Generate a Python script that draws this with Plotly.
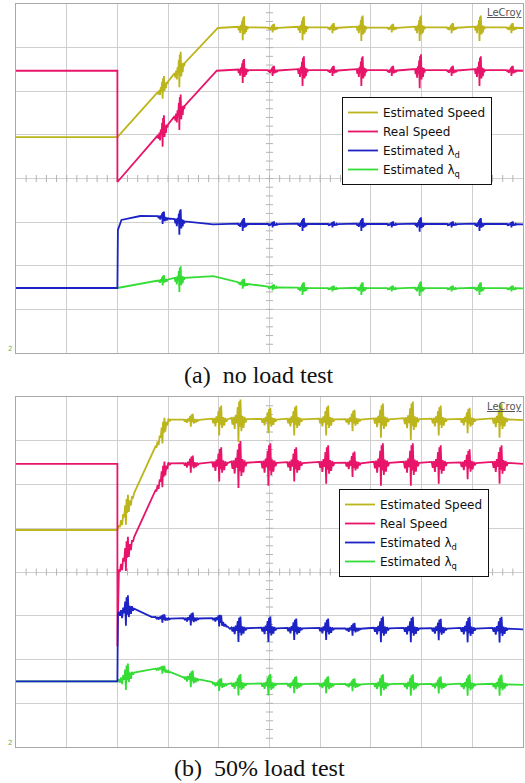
import numpy as np
import plotly.graph_objects as go

# ---------------- data (time in divisions 0..10, level in divisions 0..8) -------------
SERIES_NAMES = ["Estimated Speed", "Real Speed", "Estimated λ<sub>d</sub>", "Estimated λ<sub>q</sub>"]

# Panel (a): no load test
a_est_t = [0, 2.0, 3.98, 10]
a_est_v = [4.95, 4.95, 7.45, 7.45]
a_real_t = [0, 2.0, 2.0, 3.96, 10]
a_real_v = [6.47, 6.47, 3.92, 6.47, 6.47]
a_ld_t = [0, 2.0, 2.01, 2.08, 2.45, 2.84, 3.23, 3.89, 10]
a_ld_v = [1.49, 1.49, 2.82, 3.05, 3.14, 3.12, 3.01, 2.95, 2.95]
a_lq_t = [0, 2.0, 2.9, 3.89, 4.42, 5.0, 5.6, 10]
a_lq_v = [1.49, 1.49, 1.67, 1.76, 1.6, 1.51, 1.48, 1.48]
a_burst_t = [2.9, 3.23, 4.48, 5.07, 5.66, 6.25, 6.82, 7.42, 7.97, 8.6, 9.15, 9.78]
a_burst_est = [0.25, 0.4, 0.28, 0.1, 0.28, 0.12, 0.3, 0.1, 0.3, 0.12, 0.3, 0.12]
a_burst_real = [0.35, 0.4, 0.28, 0.12, 0.35, 0.12, 0.35, 0.12, 0.4, 0.12, 0.35, 0.12]
a_burst_ld = [0.15, 0.3, 0.15, 0.07, 0.15, 0.07, 0.15, 0.07, 0.17, 0.07, 0.15, 0.07]
a_burst_lq = [0.12, 0.3, 0.12, 0.07, 0.15, 0.07, 0.15, 0.07, 0.17, 0.07, 0.15, 0.07]

# Panel (b): 50% load test
b_est_t = [0, 2.0, 3.0, 10]
b_est_v = [4.96, 4.96, 7.47, 7.47]
b_real_t = [0, 2.0, 2.0, 2.02, 3.0, 10]
b_real_v = [6.47, 6.47, 2.3, 4.0, 6.47, 6.47]
b_ld_t = [0, 2.0, 2.01, 2.28, 2.68, 3.0, 3.98, 4.22, 10]
b_ld_v = [1.5, 1.5, 3.05, 3.17, 2.97, 2.93, 2.93, 2.70, 2.69]
b_lq_t = [0, 2.0, 2.3, 2.84, 3.3, 3.76, 3.98, 10]
b_lq_v = [1.5, 1.5, 1.68, 1.8, 1.59, 1.51, 1.43, 1.42]
b_burst_t = [2.18, 2.9, 3.46, 4.02, 4.4, 4.99, 5.5, 6.13, 6.65, 7.21, 7.8, 8.35, 8.92, 9.55]
b_burst_est = [0.3, 0.25, 0.15, 0.35, 0.5, 0.3, 0.35, 0.35, 0.25, 0.4, 0.45, 0.35, 0.3, 0.4]
b_burst_real = [0.35, 0.25, 0.2, 0.4, 0.55, 0.5, 0.4, 0.45, 0.3, 0.5, 0.5, 0.45, 0.35, 0.45]
b_burst_ld = [0.35, 0.1, 0.15, 0.15, 0.3, 0.3, 0.25, 0.25, 0.15, 0.3, 0.3, 0.25, 0.3, 0.3]
b_burst_lq = [0.3, 0.1, 0.2, 0.15, 0.25, 0.25, 0.2, 0.2, 0.15, 0.25, 0.25, 0.2, 0.25, 0.25]

CAPTIONS = ["(a)&nbsp; no load test", "(b)&nbsp; 50% load test"]

# ---------------- styling -------------
COLORS = ["#bdb51c", "#e8146a", "#1c22c4", "#35dc35"]
# burst template (relative time offset, relative amplitude)
BURST_OFF = [-0.5, -0.43, -0.36, -0.29, -0.22, -0.15, -0.09, -0.04, 0.0, 0.04, 0.09,
             0.15, 0.22, 0.29, 0.36, 0.43, 0.5]
BURST_SHAPE = [0.1, -0.2, 0.15, -0.4, 0.25, -0.15, 0.6, -1.0, 0.85, -0.3, 0.95,
               -0.5, 0.2, -0.35, 0.15, -0.1, 0.05]


def build(t, v, bt, ba, width):
    pts = [(x, i, y) for i, (x, y) in enumerate(zip(t, v))]
    n = len(pts)
    for c, a in zip(bt, ba):
        for o, s in zip(BURST_OFF, BURST_SHAPE):
            x = c + o * width
            pts.append((x, n, float(np.interp(x, t, v)) + s * a))
            n += 1
    pts.sort(key=lambda p: (p[0], p[1]))
    return [p[0] for p in pts], [p[2] for p in pts]


W, H = 525, 783
X0, X1 = 16, 523
panels = [
    dict(top=4, bot=353, legend="legend", width=0.2,
         data=[(a_est_t, a_est_v, a_burst_est), (a_real_t, a_real_v, a_burst_real),
               (a_ld_t, a_ld_v, a_burst_ld), (a_lq_t, a_lq_v, a_burst_lq)], bt=a_burst_t),
    dict(top=397, bot=747, legend="legend2", width=0.3,
         data=[(b_est_t, b_est_v, b_burst_est), (b_real_t, b_real_v, b_burst_real),
               (b_ld_t, b_ld_v, b_burst_ld), (b_lq_t, b_lq_v, b_burst_lq)], bt=b_burst_t),
]

fig = go.Figure()
layout = dict(width=W, height=H, margin=dict(l=0, r=0, t=0, b=0),
              paper_bgcolor="white", plot_bgcolor="white", showlegend=True)
annotations = []

for pi, p in enumerate(panels):
    xa = "xaxis" if pi == 0 else "xaxis2"
    ya = "yaxis" if pi == 0 else "yaxis2"
    xr = "x" if pi == 0 else "x2"
    yr = "y" if pi == 0 else "y2"
    dom_y = [1 - p["bot"] / H, 1 - p["top"] / H]
    layout[xa] = dict(domain=[X0 / W, X1 / W], range=[0, 10], dtick=1, showgrid=True,
                      gridcolor="#cfcfcf", gridwidth=1, zeroline=False, showticklabels=False,
                      showline=True, linecolor="#a8a8a8", linewidth=1, mirror=True,
                      anchor=yr, fixedrange=True)
    layout[ya] = dict(domain=dom_y, range=[0, 8], dtick=1, showgrid=True,
                      gridcolor="#cfcfcf", gridwidth=1, zeroline=False, showticklabels=False,
                      showline=True, linecolor="#a8a8a8", linewidth=1, mirror=True,
                      anchor=xr, fixedrange=True)

    # centre-axis minor ticks
    ticks = [k * 0.2 for k in range(1, 50)]
    fig.add_trace(go.Scatter(x=[5] * 39, y=[k * 0.2 for k in range(1, 40)], mode="markers",
                             marker=dict(symbol="line-ew", size=5, line=dict(width=1, color="#b4b4b4")),
                             xaxis=xr, yaxis=yr, showlegend=False, hoverinfo="skip"))
    fig.add_trace(go.Scatter(x=ticks, y=[4] * len(ticks), mode="markers",
                             marker=dict(symbol="line-ns", size=5, line=dict(width=1, color="#b4b4b4")),
                             xaxis=xr, yaxis=yr, showlegend=False, hoverinfo="skip"))

    # traces: draw green before blue so blue sits on top
    order = [0, 1, 3, 2]
    for si in order:
        t, v, ba = p["data"][si]
        xs, ys = build(t, v, p["bt"], ba, p["width"])
        fig.add_trace(go.Scatter(x=xs, y=ys, mode="lines", name=SERIES_NAMES[si],
                                 line=dict(color=COLORS[si], width=1.8),
                                 xaxis=xr, yaxis=yr, legend=p["legend"], legendrank=si + 1,
                                 hoverinfo="skip"))

    # trigger marker
    fig.add_trace(go.Scatter(x=[5], y=[-0.12], mode="markers",
                             marker=dict(symbol="triangle-up", size=7, color="#c9c84a"),
                             xaxis=xr, yaxis=yr, showlegend=False, hoverinfo="skip",
                             cliponaxis=False))

    annotations.append(dict(text="<u>LeCroy</u>", x=524 / W, y=1 - (p["top"] + 9) / H,
                            xref="paper", yref="paper", xanchor="right", yanchor="middle",
                            showarrow=False, font=dict(family="DejaVu Sans", size=10, color="#555555")))
    annotations.append(dict(text="2", x=10 / W, y=1 - (p["bot"] - 4) / H,
                            xref="paper", yref="paper", xanchor="center", yanchor="middle",
                            showarrow=False, font=dict(family="DejaVu Sans", size=7, color="#6cb04a")))

cap_y = [375, 768]
for txt, cy in zip(CAPTIONS, cap_y):
    annotations.append(dict(text=txt, x=259 / W, y=1 - cy / H, xref="paper", yref="paper",
                            xanchor="center", yanchor="middle", showarrow=False,
                            font=dict(family="Liberation Serif", size=24, color="#111111")))

leg_common = dict(bgcolor="white", bordercolor="#111111", borderwidth=1,
                  font=dict(family="DejaVu Sans", size=12, color="#111111"),
                  xanchor="left", yanchor="top", itemwidth=30, tracegroupgap=0,
                  traceorder="normal")
layout["legend"] = dict(x=342 / W, y=1 - 97 / H, **leg_common)
layout["legend2"] = dict(x=339 / W, y=1 - 489 / H, **leg_common)
layout["annotations"] = annotations

fig.update_layout(**layout)
fig.write_html("out.html", config={"displayModeBar": False},
               post_script="document.body.style.margin='0';document.body.style.overflow='hidden';"
                           "document.documentElement.style.overflow='hidden';")
